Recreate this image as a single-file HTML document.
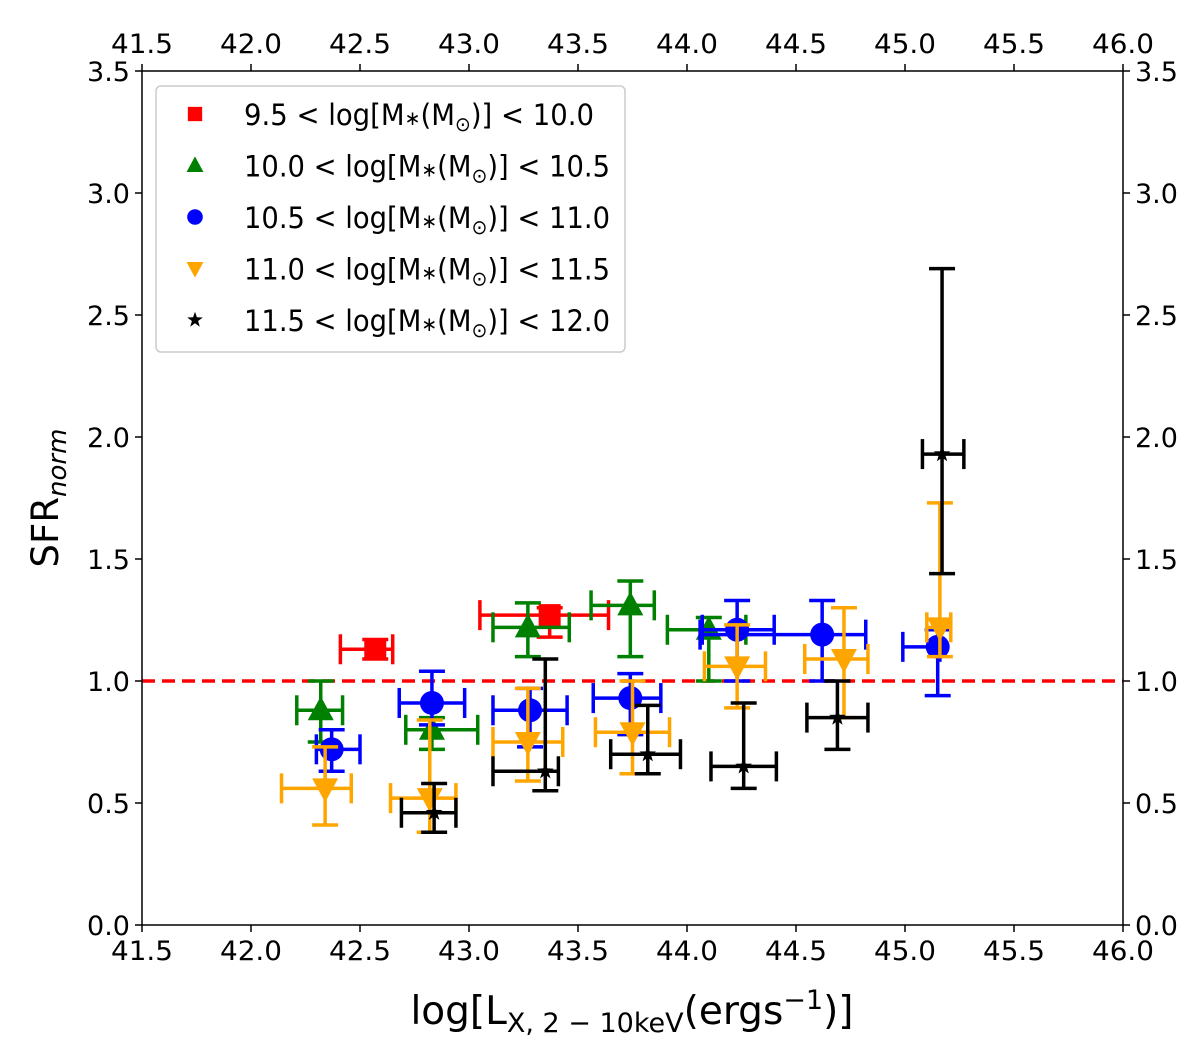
<!DOCTYPE html>
<html><head><meta charset="utf-8"><style>
body{margin:0;background:#fff}
svg{display:block;font-family:"DejaVu Sans","Liberation Sans",sans-serif}
</style></head><body>
<svg id="chart" width="1200" height="1048" viewBox="0 0 1200 1048">
<rect x="0" y="0" width="1200" height="1048" fill="#fff"/>
<g id="ticks"></g>
<line id="refline" stroke="#ff0000" stroke-width="3.5" stroke-dasharray="13,7"/>
<g id="marks"></g>
<rect x="142" y="71" width="981" height="854" fill="none" stroke="#000" stroke-width="1.5"/>
<text x="632" y="1024" font-size="39" text-anchor="middle">log[L<tspan font-size="27" dy="8">X, 2 − 10keV</tspan><tspan dy="-8">(ergs</tspan><tspan font-size="27" dy="-15">−1</tspan><tspan dy="15">)]</tspan></text>
<text transform="translate(58,498) rotate(-90)" font-size="37" text-anchor="middle">SFR<tspan font-size="26" font-style="italic" dy="8">norm</tspan></text>
<g>
<rect x="156" y="86" width="469" height="266" rx="5" fill="#fff" fill-opacity="0.85" stroke="#ccc" stroke-width="1.5"/>
<g id="legend"></g>
</g>
</svg>
<script>
const categories = ["9.5 < log[M*(M⊙)] < 10.0","10.0 < log[M*(M⊙)] < 10.5","10.5 < log[M*(M⊙)] < 11.0","11.0 < log[M*(M⊙)] < 11.5","11.5 < log[M*(M⊙)] < 12.0"];
const legendLow = ["9.5","10.0","10.5","11.0","11.5"];
const legendHigh = ["10.0","10.5","11.0","11.5","12.0"];
const colors = ["#ff0000","#008000","#0000ff","#ffa500","#000000"];
const markers = ["square","triangle","circle","tridown","star"];
// per series: x, y, xlo, xhi, ylo, yhi
const redX=[42.57,43.37], redY=[1.13,1.27], redXlo=[42.41,43.05], redXhi=[42.65,43.64], redYlo=[1.09,1.18], redYhi=[1.17,1.30];
const greenX=[42.32,42.83,43.27,43.74,44.10], greenY=[0.88,0.80,1.22,1.31,1.21], greenXlo=[42.21,42.71,43.11,43.56,43.91], greenXhi=[42.42,43.04,43.46,43.85,44.27], greenYlo=[0.75,0.72,1.10,1.10,1.00], greenYhi=[1.00,0.85,1.32,1.41,1.26];
const blueX=[42.37,42.83,43.28,43.74,44.23,44.62,45.15], blueY=[0.72,0.91,0.88,0.93,1.21,1.19,1.14], blueXlo=[42.30,42.68,43.11,43.57,44.07,44.06,44.99], blueXhi=[42.50,42.98,43.45,43.88,44.40,44.82,45.16], blueYlo=[0.63,0.82,0.73,0.78,1.00,1.00,0.94], blueYhi=[0.80,1.04,0.97,1.03,1.33,1.33,1.21];
const orangeX=[42.34,42.82,43.27,43.75,44.23,44.72,45.16], orangeY=[0.56,0.52,0.75,0.79,1.06,1.09,1.22], orangeXlo=[42.14,42.64,43.11,43.58,44.08,44.54,45.10], orangeXhi=[42.46,42.94,43.43,43.92,44.36,44.83,45.21], orangeYlo=[0.41,0.38,0.59,0.62,0.89,0.85,1.10], orangeYhi=[0.73,0.84,0.97,1.00,1.23,1.30,1.73];
const blackX=[42.84,43.35,43.82,44.26,44.69,45.17], blackY=[0.46,0.63,0.70,0.65,0.85,1.93], blackXlo=[42.69,43.11,43.65,44.11,44.55,45.08], blackXhi=[42.94,43.41,43.97,44.41,44.83,45.27], blackYlo=[0.38,0.55,0.62,0.56,0.72,1.44], blackYhi=[0.58,1.09,0.90,0.91,1.00,2.69];
const xTicks=["41.5","42.0","42.5","43.0","43.5","44.0","44.5","45.0","45.5","46.0"];
const yTicks=["0.0","0.5","1.0","1.5","2.0","2.5","3.0","3.5"];
const refValue=1.0;

const NS="http://www.w3.org/2000/svg";
const X0=142,X1=1123,Y0=925,Y1=71,xmin=41.5,xmax=46,ymin=0,ymax=3.5;
function xs(v){return X0+(v-xmin)/(xmax-xmin)*(X1-X0);}
function ys(v){return Y0-(v-ymin)/(ymax-ymin)*(Y0-Y1);}
function mk(tag,attrs,parent){const e=document.createElementNS(NS,tag);for(const k in attrs)e.setAttribute(k,attrs[k]);parent.appendChild(e);return e;}

const tg=document.getElementById('ticks');
xTicks.forEach(t=>{const x=xs(parseFloat(t));
 let l=mk('line',{x1:x,x2:x,y1:Y0,y2:Y0+7,stroke:'#000','stroke-width':1.5},tg);
 
 
 l=mk('line',{x1:x,x2:x,y1:Y1,y2:Y1-7,stroke:'#000','stroke-width':1.5},tg);
 
 
 let tx=mk('text',{x:x,y:960,'font-size':27,'text-anchor':'middle',textLength:62,lengthAdjust:'spacingAndGlyphs'},tg);tx.textContent=t;
 
 
 tx=mk('text',{x:x,y:53,'font-size':27,'text-anchor':'middle',textLength:62,lengthAdjust:'spacingAndGlyphs'},tg);tx.textContent=t;
 
 
});
yTicks.forEach(t=>{const y=ys(parseFloat(t));
 let l=mk('line',{x1:X0,x2:X0-7,y1:y,y2:y,stroke:'#000','stroke-width':1.5},tg);
 
 
 l=mk('line',{x1:X1,x2:X1+7,y1:y,y2:y,stroke:'#000','stroke-width':1.5},tg);
 
 
 let tx=mk('text',{x:X0-12,y:y+10,'font-size':27,'text-anchor':'end'},tg);tx.textContent=t;
 
 
 tx=mk('text',{x:X1+12,y:y+10,'font-size':27,'text-anchor':'start'},tg);tx.textContent=t;
 
 
});
const rl=document.getElementById('refline');
rl.setAttribute('x1',X0);rl.setAttribute('x2',X1);rl.setAttribute('y1',ys(refValue));rl.setAttribute('y2',ys(refValue));

function marker(type,cx,cy,s,color,parent){
 let e;
 if(type==='square') e=mk('rect',{x:cx-s*0.55,y:cy-s*0.55,width:s*1.1,height:s*1.1,fill:color},parent);
 else if(type==='circle') e=mk('circle',{cx:cx,cy:cy,r:s*0.6,fill:color},parent);
 else if(type==='triangle') e=mk('polygon',{points:`${cx},${cy-s*0.7} ${cx-s*0.65},${cy+s*0.5} ${cx+s*0.65},${cy+s*0.5}`,fill:color},parent);
 else if(type==='tridown') e=mk('polygon',{points:`${cx},${cy+s*0.7} ${cx-s*0.65},${cy-s*0.5} ${cx+s*0.65},${cy-s*0.5}`,fill:color},parent);
 else {let p=[];for(let i=0;i<10;i++){const r=i%2?s*0.22:s*0.55;const a=-Math.PI/2+i*Math.PI/5;p.push((cx+r*Math.cos(a)).toFixed(1)+','+(cy+r*Math.sin(a)).toFixed(1));}
  e=mk('polygon',{points:p.join(' '),fill:color},parent);}
 return e;
}
const series=[[redX,redY,redXlo,redXhi,redYlo,redYhi],[greenX,greenY,greenXlo,greenXhi,greenYlo,greenYhi],[blueX,blueY,blueXlo,blueXhi,blueYlo,blueYhi],[orangeX,orangeY,orangeXlo,orangeXhi,orangeYlo,orangeYhi],[blackX,blackY,blackXlo,blackXhi,blackYlo,blackYhi]];
const names=['red','green','blue','orange','black'];
const mg=document.getElementById('marks');
series.forEach((s,si)=>{
 const c=colors[si];
 const g=mk('g',{},mg);
 
 
 s[0].forEach((xv,i)=>{
  const cx=xs(xv),cy=ys(s[1][i]),xl=xs(s[2][i]),xh=xs(s[3][i]),yl=ys(s[4][i]),yh=ys(s[5][i]);
  const pg=mk('g',{stroke:c,'stroke-width':3.5,fill:'none'},g);
  
  
  mk('line',{x1:xl,x2:xh,y1:cy,y2:cy},pg);
  mk('line',{x1:cx,x2:cx,y1:yl,y2:yh},pg);
  mk('line',{x1:xl,x2:xl,y1:cy-15,y2:cy+15},pg);
  mk('line',{x1:xh,x2:xh,y1:cy-15,y2:cy+15},pg);
  mk('line',{x1:cx-13,x2:cx+13,y1:yl,y2:yl},pg);
  mk('line',{x1:cx-13,x2:cx+13,y1:yh,y2:yh},pg);
  const m=marker(markers[si],cx,cy,markers[si]==='star'?16:20,c,g);
  
  
 });
});
const lg=document.getElementById('legend');
categories.forEach((c,i)=>{
 const y=114+i*51.5;
 const m=marker(markers[i],195,y,markers[i]==='star'?15:13,colors[i],lg);
 
 
 const t=mk('text',{x:244,y:y+11,'font-size':29},lg);
 
 
 t.setAttribute('textLength', i===0?350:366);
 t.setAttribute('lengthAdjust','spacingAndGlyphs');
 t.innerHTML=`${legendLow[i]} &lt; log[M<tspan font-size="20">∗</tspan>(M<tspan font-size="20" dy="6">⊙</tspan><tspan dy="-6">)] &lt; ${legendHigh[i]}</tspan>`;
});
</script>
</body></html>
